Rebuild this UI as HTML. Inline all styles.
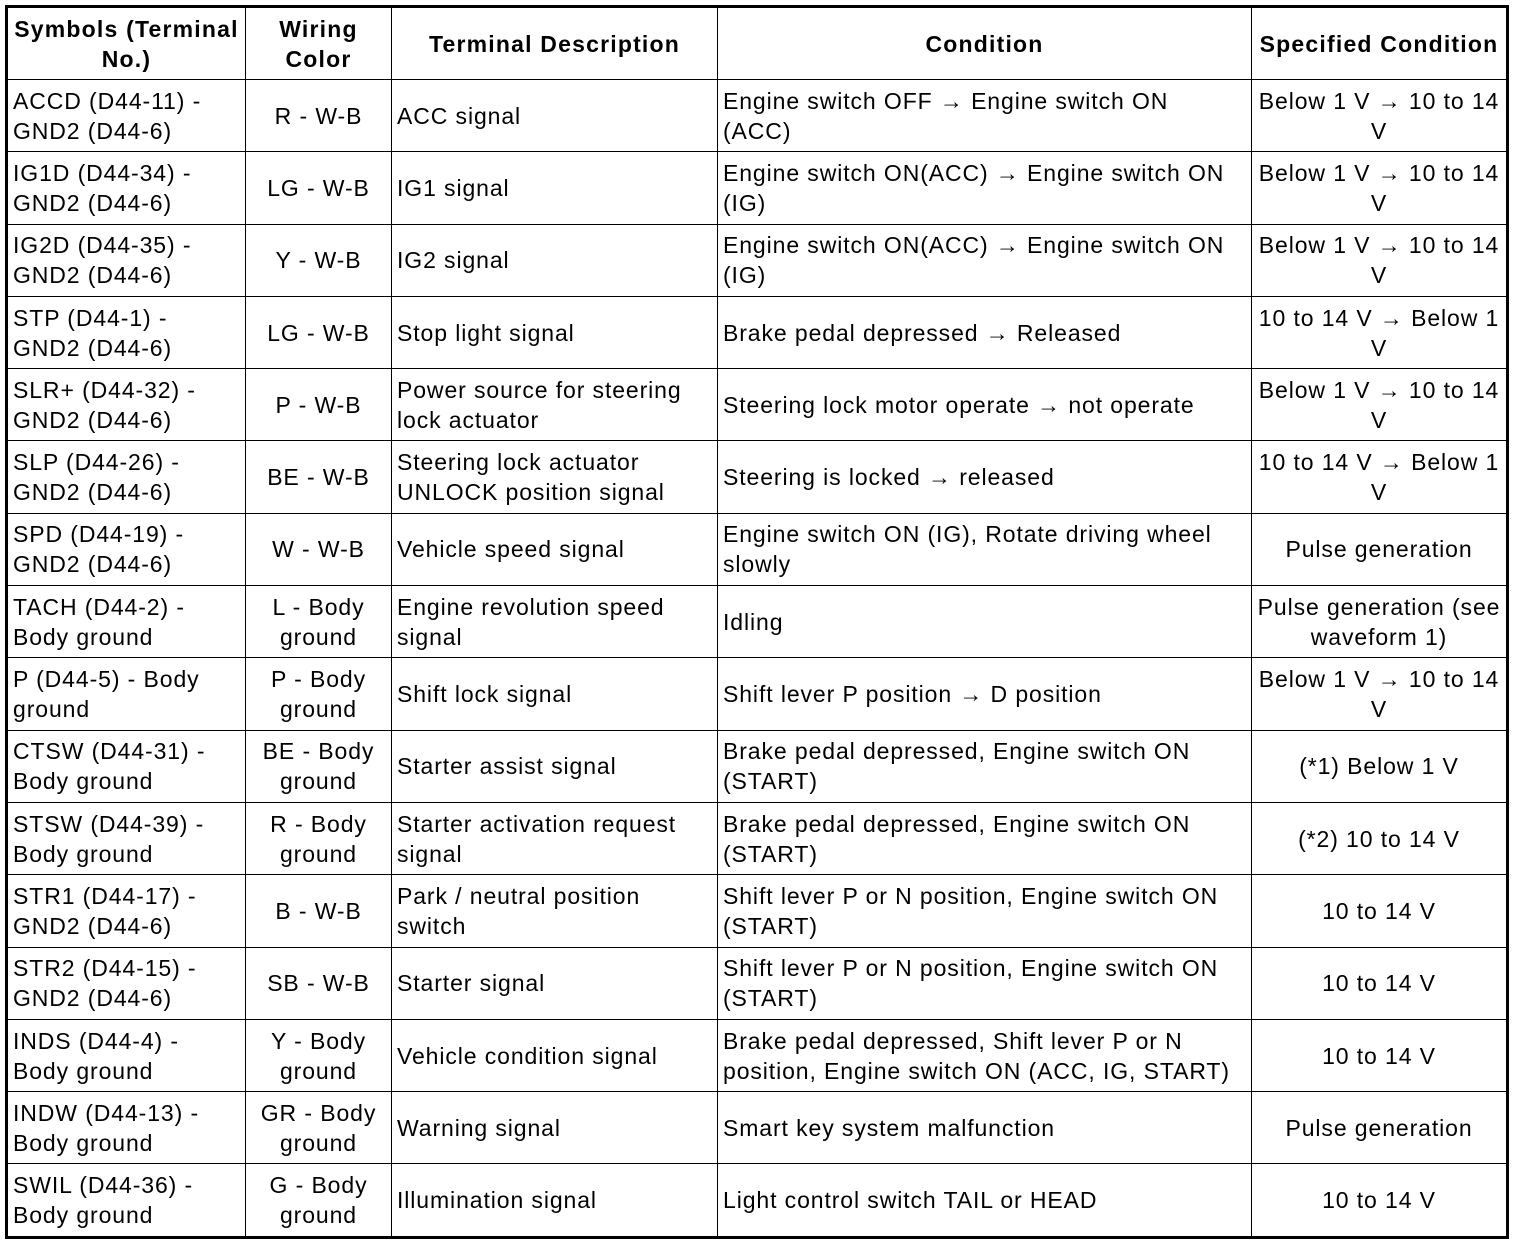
<!DOCTYPE html>
<html><head><meta charset="utf-8"><style>
html,body{margin:0;padding:0;background:#fff;width:1520px;height:1244px;overflow:hidden}
table{position:absolute;left:5px;top:5px;border-collapse:collapse;table-layout:fixed;border:3px solid #000;font-family:"Liberation Sans",Arial,sans-serif;font-size:23px;line-height:30px;color:#000;letter-spacing:0.9px}
td,th{border:1px solid #000;padding:0 0 0 5px;vertical-align:middle;text-align:left;overflow:hidden;white-space:nowrap}
th{font-weight:bold;text-align:center;height:71px;letter-spacing:1.2px;padding:0}
td{height:71.3px}
.c{text-align:center;padding:0}
</style></head><body>
<table>
<colgroup><col style="width:239px"><col style="width:146px"><col style="width:326px"><col style="width:534px"><col style="width:256px"></colgroup>
<tr><th>Symbols (Terminal<br>No.)</th><th>Wiring<br>Color</th><th>Terminal Description</th><th>Condition</th><th>Specified Condition</th></tr>
<tr><td>ACCD (D44-11) -<br>GND2 (D44-6)</td><td class="c">R - W-B</td><td>ACC signal</td><td>Engine switch OFF → Engine switch ON<br>(ACC)</td><td class="c">Below 1 V → 10 to 14<br>V</td></tr>
<tr><td>IG1D (D44-34) -<br>GND2 (D44-6)</td><td class="c">LG - W-B</td><td>IG1 signal</td><td>Engine switch ON(ACC) → Engine switch ON<br>(IG)</td><td class="c">Below 1 V → 10 to 14<br>V</td></tr>
<tr><td>IG2D (D44-35) -<br>GND2 (D44-6)</td><td class="c">Y - W-B</td><td>IG2 signal</td><td>Engine switch ON(ACC) → Engine switch ON<br>(IG)</td><td class="c">Below 1 V → 10 to 14<br>V</td></tr>
<tr><td>STP (D44-1) -<br>GND2 (D44-6)</td><td class="c">LG - W-B</td><td>Stop light signal</td><td>Brake pedal depressed → Released</td><td class="c">10 to 14 V → Below 1<br>V</td></tr>
<tr><td>SLR+ (D44-32) -<br>GND2 (D44-6)</td><td class="c">P - W-B</td><td>Power source for steering<br>lock actuator</td><td>Steering lock motor operate → not operate</td><td class="c">Below 1 V → 10 to 14<br>V</td></tr>
<tr><td>SLP (D44-26) -<br>GND2 (D44-6)</td><td class="c">BE - W-B</td><td>Steering lock actuator<br>UNLOCK position signal</td><td>Steering is locked → released</td><td class="c">10 to 14 V → Below 1<br>V</td></tr>
<tr><td>SPD (D44-19) -<br>GND2 (D44-6)</td><td class="c">W - W-B</td><td>Vehicle speed signal</td><td>Engine switch ON (IG), Rotate driving wheel<br>slowly</td><td class="c">Pulse generation</td></tr>
<tr><td>TACH (D44-2) -<br>Body ground</td><td class="c">L - Body<br>ground</td><td>Engine revolution speed<br>signal</td><td>Idling</td><td class="c">Pulse generation (see<br>waveform 1)</td></tr>
<tr><td>P (D44-5) - Body<br>ground</td><td class="c">P - Body<br>ground</td><td>Shift lock signal</td><td>Shift lever P position → D position</td><td class="c">Below 1 V → 10 to 14<br>V</td></tr>
<tr><td>CTSW (D44-31) -<br>Body ground</td><td class="c">BE - Body<br>ground</td><td>Starter assist signal</td><td>Brake pedal depressed, Engine switch ON<br>(START)</td><td class="c">(*1) Below 1 V</td></tr>
<tr><td>STSW (D44-39) -<br>Body ground</td><td class="c">R - Body<br>ground</td><td>Starter activation request<br>signal</td><td>Brake pedal depressed, Engine switch ON<br>(START)</td><td class="c">(*2) 10 to 14 V</td></tr>
<tr><td>STR1 (D44-17) -<br>GND2 (D44-6)</td><td class="c">B - W-B</td><td>Park / neutral position<br>switch</td><td>Shift lever P or N position, Engine switch ON<br>(START)</td><td class="c">10 to 14 V</td></tr>
<tr><td>STR2 (D44-15) -<br>GND2 (D44-6)</td><td class="c">SB - W-B</td><td>Starter signal</td><td>Shift lever P or N position, Engine switch ON<br>(START)</td><td class="c">10 to 14 V</td></tr>
<tr><td>INDS (D44-4) -<br>Body ground</td><td class="c">Y - Body<br>ground</td><td>Vehicle condition signal</td><td>Brake pedal depressed, Shift lever P or N<br>position, Engine switch ON (ACC, IG, START)</td><td class="c">10 to 14 V</td></tr>
<tr><td>INDW (D44-13) -<br>Body ground</td><td class="c">GR - Body<br>ground</td><td>Warning signal</td><td>Smart key system malfunction</td><td class="c">Pulse generation</td></tr>
<tr><td>SWIL (D44-36) -<br>Body ground</td><td class="c">G - Body<br>ground</td><td>Illumination signal</td><td>Light control switch TAIL or HEAD</td><td class="c">10 to 14 V</td></tr>
</table>
</body></html>
